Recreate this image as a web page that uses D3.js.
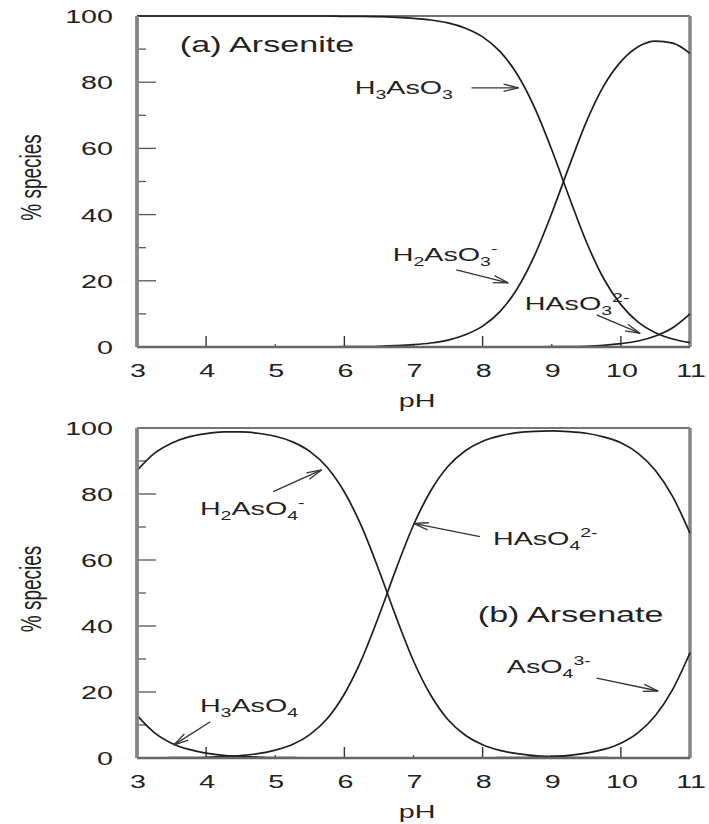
<!DOCTYPE html>
<html>
<head>
<meta charset="utf-8">
<script src="https://cdn.jsdelivr.net/npm/d3@7"></script>
<style>
  html, body { margin: 0; padding: 0; background: #fff; }
  svg { display: block; }
  text { font-family: "Liberation Sans", Arial, Helvetica, sans-serif; fill: #222; }
</style>
</head>
<body>
<svg id="chart" width="709" height="824"></svg>
<script>
// pH grid shared by both panels
const pH = [3, 3.25, 3.5, 3.75, 4, 4.25, 4.5, 4.75, 5, 5.25, 5.5, 5.75, 6, 6.25, 6.5, 6.75, 7,
            7.25, 7.5, 7.75, 8, 8.25, 8.5, 8.75, 9, 9.25, 9.5, 9.75, 10, 10.25, 10.5, 10.75, 11];

// (a) Arsenite species, % of total
const H3AsO3 = [100, 100, 100, 100, 100, 100, 100, 100, 100, 100, 100, 100,
                99.9, 99.9, 99.8, 99.6, 99.3, 98.8, 97.9, 96.3, 93.7, 89.3, 82.4, 72.4,
                59.6, 45.4, 31.8, 20.7, 12.8, 7.5, 4.3, 2.4, 1.3];
const H2AsO3 = [0, 0, 0, 0, 0, 0, 0, 0, 0, 0, 0, 0,
                0.1, 0.1, 0.2, 0.4, 0.7, 1.2, 2.1, 3.7, 6.3, 10.7, 17.6, 27.6,
                40.4, 54.5, 68.0, 78.8, 86.2, 90.7, 92.4, 91.8, 88.7];
const HAsO3 = [0, 0, 0, 0, 0, 0, 0, 0, 0, 0, 0, 0,
               0, 0, 0, 0, 0, 0, 0, 0, 0, 0, 0, 0,
               0.1, 0.1, 0.2, 0.5, 1.0, 1.8, 3.3, 5.8, 10.0];

// (b) Arsenate species, % of total
const H3AsO4 = [12.9, 7.7, 4.5, 2.6, 1.5, 0.8, 0.5, 0.3, 0.1, 0.1, 0, 0,
                0, 0, 0, 0, 0, 0, 0, 0, 0, 0, 0, 0,
                0, 0, 0, 0, 0, 0, 0, 0, 0];
const H2AsO4 = [87.1, 92.3, 95.4, 97.3, 98.3, 98.8, 98.8, 98.4, 97.5, 95.8, 92.9, 88.1,
                80.6, 70.1, 56.9, 42.6, 29.4, 19.0, 11.6, 6.9, 4.0, 2.3, 1.3, 0.7,
                0.4, 0.2, 0.1, 0.1, 0, 0, 0, 0, 0];
const HAsO4 = [0, 0, 0.1, 0.1, 0.2, 0.4, 0.7, 1.3, 2.4, 4.1, 7.1, 11.9,
               19.4, 29.9, 43.1, 57.4, 70.6, 81.0, 88.4, 93.1, 96.0, 97.6, 98.6, 99.0,
               99.1, 98.9, 98.4, 97.3, 95.5, 92.3, 87.1, 79.2, 68.1];
const AsO4 = [0, 0, 0, 0, 0, 0, 0, 0, 0, 0, 0, 0,
              0, 0, 0, 0, 0, 0, 0, 0, 0, 0.1, 0.1, 0.3,
              0.5, 0.8, 1.5, 2.6, 4.5, 7.7, 12.9, 20.8, 31.9];

// Axis ticks and labels
const xTickValues = [3, 4, 5, 6, 7, 8, 9, 10, 11];
const xMajorTicks = [4, 6, 8, 10];
const xMinorTicks = [5, 7, 9];
const yTickValues = [0, 20, 40, 60, 80, 100];
const yMinorTicks = [10, 30, 50, 70, 90];
const xTitle = "pH";
const yTitle = "% species";
const panelTitles = ["(a) Arsenite", "(b) Arsenate"];

// Species annotations: text parts, text anchor point and arrow (pH, %)
const arseniteNotes = [
  { parts: [["H"], ["3", "sub"], ["AsO"], ["3", "sub"]], at: [6.15, 76.4], from: [7.84, 78.3], to: [8.52, 78.3] },
  { parts: [["H"], ["2", "sub"], ["AsO"], ["3", "sub"], ["-", "sup"]], at: [6.70, 26.0], from: [7.62, 23.3], to: [8.37, 19.4] },
  { parts: [["HAsO"], ["3", "sub"], ["2-", "sup"]], at: [8.61, 11.2], from: [9.65, 9.7], to: [10.28, 4.1] }
];
const arsenateNotes = [
  { parts: [["H"], ["2", "sub"], ["AsO"], ["4", "sub"], ["-", "sup"]], at: [3.91, 73.6], from: [4.97, 80.7], to: [5.67, 87.3] },
  { parts: [["HAsO"], ["4", "sub"], ["2-", "sup"]], at: [8.15, 64.5], from: [7.96, 67.1], to: [7.0, 71.1] },
  { parts: [["AsO"], ["4", "sub"], ["3-", "sup"]], at: [8.35, 25.8], from: [9.65, 24.2], to: [10.54, 20.3] },
  { parts: [["H"], ["3", "sub"], ["AsO"], ["4", "sub"]], at: [3.91, 14.0], from: [4.06, 11.0], to: [3.53, 3.9] }
];

const SX = 1.55;           // wide lettering of the figure
const svg = d3.select("#chart");
const left = 137, right = 690;

// Write text with sub/superscript parts, stretched horizontally
function richText(g, x, y, parts, size, anchor) {
  const t = g.append("text")
    .attr("transform", `translate(${x},${y}) scale(${SX},1)`)
    .attr("font-size", size)
    .attr("text-anchor", anchor || "start");
  let shift = 0;
  parts.forEach(([s, kind]) => {
    let target = 0, fs = size;
    if (kind === "sub") { target = 5; fs = size * 0.68; }
    if (kind === "sup") { target = -8; fs = size * 0.68; }
    t.append("tspan").attr("dy", target - shift).attr("font-size", fs).text(s);
    shift = target;
  });
  return t;
}

function arrow(g, x1, y1, x2, y2) {
  const ang = Math.atan2(y2 - y1, x2 - x1);
  const L = 15, W = 3.6;
  const bx = x2 - L * Math.cos(ang), by = y2 - L * Math.sin(ang);
  const px = -Math.sin(ang) * W, py = Math.cos(ang) * W;
  g.append("line").attr("x1", x1).attr("y1", y1).attr("x2", x2).attr("y2", y2)
    .attr("stroke", "#333").attr("stroke-width", 1.3);
  g.append("path")
    .attr("d", `M${bx + px},${by + py}L${x2},${y2}L${bx - px},${by - py}`)
    .attr("fill", "none").attr("stroke", "#333").attr("stroke-width", 1.3);
}

function panel(top, bottom, series, title, titleAt, notes) {
  const x = d3.scaleLinear().domain([3, 11]).range([left, right]);
  const y = d3.scaleLinear().domain([0, 100]).range([bottom, top]);
  const g = svg.append("g");

  // frame: thin top border, heavier grey axes
  g.append("line").attr("x1", left).attr("x2", right).attr("y1", top).attr("y2", top)
    .attr("stroke", "#444").attr("stroke-width", 1.3);
  g.append("line").attr("x1", right).attr("x2", right).attr("y1", top).attr("y2", bottom)
    .attr("stroke", "#858585").attr("stroke-width", 3.5);

  // y ticks (inward)
  g.selectAll(".ymaj").data(yTickValues.filter(v => v > 0 && v < 100)).join("line")
    .attr("x1", left).attr("x2", left + 19).attr("y1", d => y(d)).attr("y2", d => y(d))
    .attr("stroke", "#555").attr("stroke-width", 1.3);
  g.selectAll(".ymin").data(yMinorTicks).join("line")
    .attr("x1", left).attr("x2", left + 9).attr("y1", d => y(d)).attr("y2", d => y(d))
    .attr("stroke", "#555").attr("stroke-width", 1.3);
  // x ticks (inward)
  g.selectAll(".xmaj").data(xMajorTicks).join("line")
    .attr("x1", d => x(d)).attr("x2", d => x(d)).attr("y1", bottom).attr("y2", bottom - 11)
    .attr("stroke", "#333").attr("stroke-width", 1.4);
  g.selectAll(".xmin").data(xMinorTicks).join("line")
    .attr("x1", d => x(d)).attr("x2", d => x(d)).attr("y1", bottom).attr("y2", bottom - 3)
    .attr("stroke", "#555").attr("stroke-width", 1.4);

  // curves
  const line = d3.line().x((d, i) => x(pH[i])).y(d => y(d)).curve(d3.curveMonotoneX);
  series.forEach(s => {
    g.append("path").attr("d", line(s)).attr("fill", "none")
      .attr("stroke", "#1e1e1e").attr("stroke-width", 1.7);
  });

  // axes lines on top
  g.append("line").attr("x1", left).attr("x2", right).attr("y1", bottom).attr("y2", bottom)
    .attr("stroke", "#666").attr("stroke-width", 2.4);
  g.append("line").attr("x1", left).attr("x2", left).attr("y1", top).attr("y2", bottom)
    .attr("stroke", "#858585").attr("stroke-width", 3.8);

  // tick labels
  yTickValues.forEach(v => {
    richText(g, 113, y(v), [[String(v)]], 18.5, "end").attr("dominant-baseline", "central");
  });
  xTickValues.forEach(v => {
    richText(g, x(v) + 1, bottom + 23, [[String(v)]], 18.5, "middle").attr("dominant-baseline", "central");
  });
  richText(g, 417, bottom + 53, [[xTitle]], 18.5, "middle").attr("dominant-baseline", "central");

  // y title, rotated
  g.append("text")
    .attr("transform", `translate(31,${(top + bottom) / 2 - 4}) rotate(-90) scale(1,${SX})`)
    .attr("text-anchor", "middle").attr("dominant-baseline", "central")
    .attr("font-size", 19).text(yTitle);

  // panel title
  richText(g, x(titleAt[0]), y(titleAt[1]), [[title]], 22, "start");

  // species labels with arrows
  notes.forEach(n => {
    richText(g, x(n.at[0]), y(n.at[1]), n.parts, 18.5, "start");
    arrow(g, x(n.from[0]), y(n.from[1]), x(n.to[0]), y(n.to[1]));
  });
}

panel(16, 347, [H3AsO3, H2AsO3, HAsO3], panelTitles[0], [3.62, 89.0], arseniteNotes);
panel(428, 758, [H3AsO4, H2AsO4, HAsO4, AsO4], panelTitles[1], [7.93, 41.2], arsenateNotes);
</script>
</body>
</html>
